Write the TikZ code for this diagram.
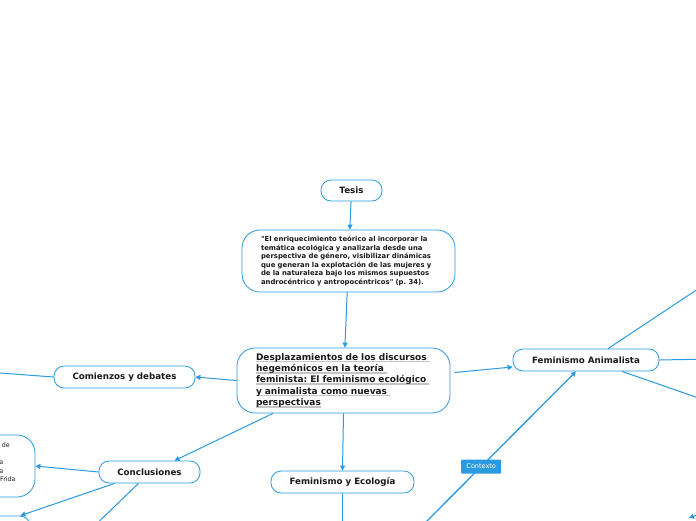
\documentclass[tikz,border=0pt]{standalone}
\usepackage{fontspec}
\setmainfont{DejaVu Sans}
\usetikzlibrary{arrows.meta,positioning,calc}
\definecolor{mmBlue}{HTML}{2A9BE0}
\definecolor{mmGrey}{HTML}{C4C4C4}
\definecolor{mmText}{HTML}{1A1A1A}
\newcommand{\greyul}[1]{\leavevmode\setbox0\hbox{#1}\rlap{\textcolor{mmGrey}{\rule[-2.2pt]{\wd0}{1.6pt}}}\box0}
\frenchspacing

\begin{document}
\begin{tikzpicture}[
    x=1pt, y=-1pt,
    topic/.style={draw=mmBlue, line width=0.8pt, fill=white, rounded corners=10pt,
                  minimum height=22pt, inner sep=2pt, text=mmText,
                  font=\fontsize{8.7}{10}\selectfont\bfseries},
    bigbox/.style={topic, rounded corners=18pt, align=left, text width=175pt},
    link/.style={mmBlue, line width=1pt, -{Triangle[length=5pt,width=5pt]}},
    plain/.style={mmBlue, line width=1pt},
    tag/.style={fill=mmBlue, text=white, font=\fontsize{6.5}{7}\selectfont,
                rounded corners=1pt, minimum width=40pt, minimum height=14pt,
                inner sep=1pt},
    frag/.style={font=\fontsize{6.3}{7}\selectfont, text=mmText, anchor=base east,
                 inner sep=0pt},
  ]
  \useasboundingbox (0,0) rectangle (696,520);
  \fill[white] (0,0) rectangle (696,520);
  \clip (0,0) rectangle (696,520);

  % Centre and upper branch
  \node[topic, minimum width=61pt, minimum height=21pt] (tesis) at (351.5,190.5) {Tesis};
  \node[bigbox, minimum width=213pt, minimum height=62pt,
        font=\fontsize{6.85}{8.6}\selectfont\bfseries] (quote) at (348.5,261)
    {\textquotedbl El enriquecimiento teórico al incorporar la\\
     temática ecológica y analizarla desde una\\
     perspectiva de género, visibilizar dinámicas\\
     que generan la explotación de las mujeres y\\
     de la naturaleza bajo los mismos supuestos\\
     androcéntrico y antropocéntricos\textquotedbl{} (p. 34).};
  \node[bigbox, minimum width=213pt, minimum height=65pt,
        font=\fontsize{9}{11.3}\selectfont\bfseries] (main) at (343.5,380.5)
    {\greyul{Desplazamientos de los discursos }\\
     \greyul{hegemónicos en la teoría }\\
     \greyul{feminista: El feminismo ecológico }\\
     \greyul{y animalista como nuevas }\\
     \greyul{perspectivas}};

  % Left side
  \node[topic, minimum width=141pt] (comienzos) at (124.5,377) {Comienzos y debates};
  \node[topic, minimum width=101pt] (concl) at (149.5,472) {Conclusiones};
  \node[bigbox, text width=130pt, minimum width=140pt, minimum height=62pt] (lconc) at (-35,466) {};
  \node[frag] (fragA) at (10,447.5) {de};
  \node[frag] (fragB) at (3.5,464.5) {a};
  \node[frag] (fragC) at (3.5,473) {a};
  \node[frag, anchor=base west] (fragD) at (0,481.5) {Frida};
  \node[topic, minimum width=120pt] (lbot) at (-30,527) {};

  % Lower and right side
  \node[topic, minimum width=143pt] (fye) at (342.5,482) {Feminismo y Ecología};
  \node[topic, minimum width=146pt] (fa) at (586,360) {Feminismo Animalista};

  % Free ends off the page
  \coordinate (offW) at (0,373);
  \coordinate (offSW) at (87,533);
  \coordinate (offS) at (342.5,530);
  \coordinate (offNE) at (710,281);
  \coordinate (offE) at (710,359);
  \coordinate (offSE) at (710,402);
  \coordinate (offCtx) at (418,530);
  \coordinate (offBR) at (702,513);
  \coordinate (tipBR) at (689,518);

  % Connectors
  \draw[link] (tesis) -- (quote);
  \draw[link] (quote) -- (main);
  \draw[link] (main.west) -- (comienzos.east);
  \draw[plain] (comienzos.west) -- (offW);
  \draw[link] (main.205) -- ($(concl.north)+(25,0)$);
  \draw[link] (concl.west) -- (lconc.east);
  \draw[link] ($(concl.south west)+(16,0)$) -- ($(lbot.north east)+(-10,0)$);
  \draw[plain] ($(concl.south)+(-11,0)$) -- (offSW);
  \draw[link] (main.south) -- (fye.north);
  \draw[plain] (fye.south) -- (offS);
  \draw[link] ($(main.east)+(4,-8)$) -- ($(fa.west)+(0,7)$);
  \draw[plain] ($(fa.north)+(22,0)$) -- (offNE);
  \draw[plain] (fa.east) -- (offE);
  \draw[plain] ($(fa.south)+(36,0)$) -- (offSE);
  \draw[link, line width=1.3pt] (offCtx) -- node[tag, pos=0.4] (ctx) {Contexto}
    ($(fa.south)+(-10,0)$);
  \draw[link] (offBR) -- (tipBR);
\end{tikzpicture}
\end{document}
